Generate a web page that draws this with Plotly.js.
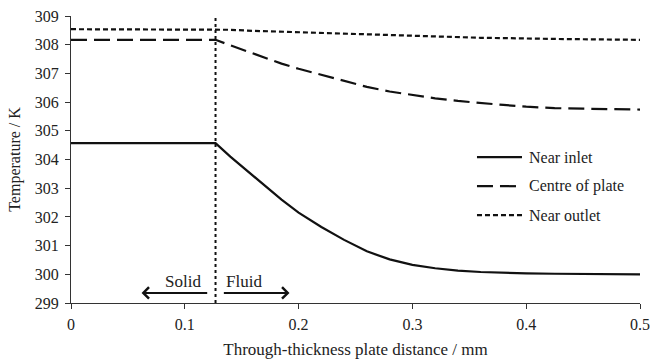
<!DOCTYPE html>
<html><head><meta charset="utf-8">
<script src="https://cdn.plot.ly/plotly-3.0.1.min.js"></script>
<style>html,body{margin:0;padding:0;background:#fff}#c{width:651px;height:363px}</style>
</head><body><div id="c"></div>
<script>
const xDist = [0, 0.127, 0.14, 0.155, 0.17, 0.185, 0.2, 0.22, 0.24, 0.26, 0.28, 0.3, 0.32, 0.34, 0.36, 0.38, 0.4, 0.425, 0.45, 0.475, 0.5];
const nearInlet = [304.57, 304.57, 304.1, 303.6, 303.1, 302.6, 302.15, 301.65, 301.2, 300.8, 300.52, 300.33, 300.21, 300.13, 300.08, 300.05, 300.03, 300.02, 300.01, 300.0, 300.0];
const centreOfPlate = [308.17, 308.17, 307.98, 307.76, 307.55, 307.34, 307.16, 306.95, 306.73, 306.53, 306.37, 306.24, 306.13, 306.04, 305.96, 305.9, 305.84, 305.79, 305.77, 305.75, 305.74];
const nearOutlet = [308.54, 308.54, 308.52, 308.49, 308.47, 308.45, 308.43, 308.41, 308.38, 308.35, 308.33, 308.31, 308.28, 308.26, 308.24, 308.23, 308.21, 308.2, 308.19, 308.18, 308.17];
const seriesNames = ['Near inlet', 'Centre of plate', 'Near outlet'];
const seriesDash = ['solid', '16px,7px', '5px,3px'];
const interfaceX = 0.127;
const regionLabels = ['Solid', 'Fluid'];

const fam = 'Liberation Serif, Times New Roman, serif';
const tickFont = {family: fam, size: 16, color: '#222'};
const titleFont = {family: fam, size: 17, color: '#222'};
const ys = [nearInlet, centreOfPlate, nearOutlet];
const traces = ys.map((y, i) => ({
  x: xDist, y: y, name: seriesNames[i], mode: 'lines', showlegend: false,
  line: {color: '#111', width: 2.2, dash: seriesDash[i]}
}));

// manual legend (paper coords)
const legY = [0.508, 0.407, 0.306];
const shapes = [
  {type: 'line', xref: 'x', yref: 'paper', x0: interfaceX, x1: interfaceX, y0: 0, y1: 1, line: {color: '#111', width: 2, dash: 'dot'}}
];
const annotations = [
  {x: 0.062, y: 299.35, ax: 0.121, ay: 299.35, xref: 'x', yref: 'y', axref: 'x', ayref: 'y', text: '', showarrow: true, arrowhead: 4, arrowsize: 1.1, arrowwidth: 2, arrowcolor: '#111'},
  {x: 0.192, y: 299.35, ax: 0.133, ay: 299.35, xref: 'x', yref: 'y', axref: 'x', ayref: 'y', text: '', showarrow: true, arrowhead: 4, arrowsize: 1.1, arrowwidth: 2, arrowcolor: '#111'},
  {x: 0.098, y: 299.75, xref: 'x', yref: 'y', text: regionLabels[0], showarrow: false, font: titleFont},
  {x: 0.152, y: 299.75, xref: 'x', yref: 'y', text: regionLabels[1], showarrow: false, font: titleFont}
];
seriesNames.forEach((n, i) => {
  shapes.push({type: 'line', xref: 'paper', yref: 'paper', x0: 0.7135, x1: 0.7926, y0: legY[i], y1: legY[i], line: {color: '#111', width: 2.2, dash: seriesDash[i]}});
  annotations.push({x: 0.801, y: legY[i], xref: 'paper', yref: 'paper', xanchor: 'left', yanchor: 'middle', text: n, showarrow: false, font: {family: fam, size: 16, color: '#222'}});
});

const layout = {
  width: 651, height: 363,
  margin: {l: 71, r: 11, t: 16, b: 60},
  paper_bgcolor: '#fff', plot_bgcolor: '#fff',
  showlegend: false,
  xaxis: {range: [0, 0.5], dtick: 0.1, showgrid: false, zeroline: false, showline: true, linecolor: '#333', linewidth: 1,
          ticks: 'outside', ticklen: 5, tickcolor: '#333', tickfont: tickFont, ticklabelstandoff: 2,
          title: {text: 'Through-thickness plate distance / mm', font: titleFont, standoff: 10}},
  yaxis: {range: [299, 309], dtick: 1, showgrid: false, zeroline: false, showline: true, linecolor: '#333', linewidth: 1,
          ticks: 'outside', ticklen: 5, tickcolor: '#333', tickfont: tickFont, ticklabelstandoff: 3,
          title: {text: 'Temperature / K', font: tickFont, standoff: 10}},
  shapes: shapes,
  annotations: annotations
};
Plotly.newPlot('c', traces, layout, {displayModeBar: false, staticPlot: true});
</script></body></html>
